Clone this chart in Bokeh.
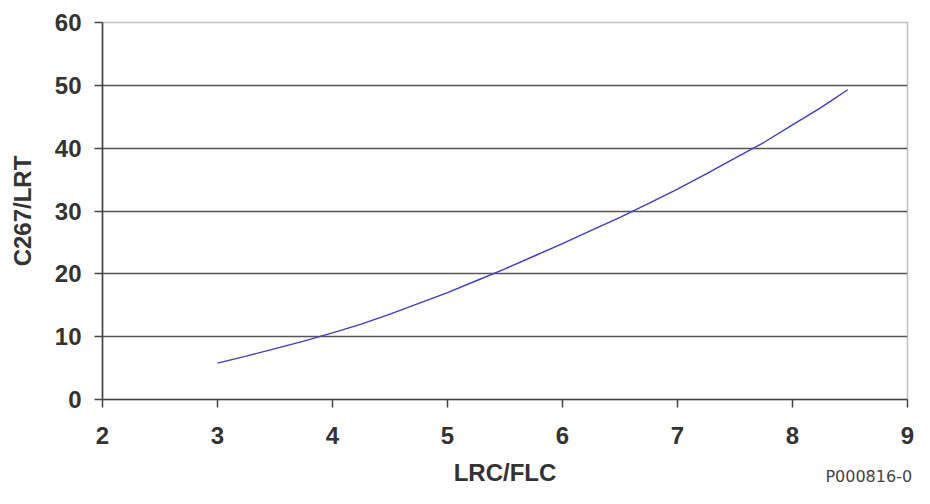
from bokeh.plotting import figure
from bokeh.embed import file_html
from bokeh.resources import INLINE
from bokeh.models import FixedTicker, Range1d, Label

# data
lrc_flc = [3.0, 3.25, 3.5, 3.75, 4.0, 4.25, 4.5, 4.75, 5.0, 5.25, 5.5, 5.75,
           6.0, 6.25, 6.5, 6.75, 7.0, 7.25, 7.5, 7.75, 8.0, 8.25, 8.48]
c267_lrt = [5.8, 6.9, 8.1, 9.3, 10.6, 12.0, 13.6, 15.3, 17.0, 18.9, 20.8, 22.8,
            24.8, 26.9, 29.0, 31.2, 33.5, 35.9, 38.4, 40.9, 43.7, 46.5, 49.3]
x_ticks = [2, 3, 4, 5, 6, 7, 8, 9]
y_ticks = [0, 10, 20, 30, 40, 50, 60]
y_grid = [10, 20, 30, 40, 50]
x_title = "LRC/FLC"
y_title = "C267/LRT"
ref_code = "P000816-0"

p = figure(width=914, height=488, output_backend="svg", toolbar_location=None,
           x_range=Range1d(2, 9), y_range=Range1d(0, 60),
           min_border_left=102, min_border_right=7, min_border_top=22, min_border_bottom=87)

p.line(lrc_flc, c267_lrt, line_color="#3c3cd0", line_width=1.4)

p.outline_line_color = "#c0c0c0"
p.outline_line_width = 1.5
p.background_fill_color = "white"
p.border_fill_color = "white"

p.xgrid.visible = False
p.ygrid.ticker = FixedTicker(ticks=y_grid)
p.ygrid.grid_line_color = "#555555"
p.ygrid.grid_line_width = 1.6

p.xaxis.ticker = FixedTicker(ticks=x_ticks)
p.yaxis.ticker = FixedTicker(ticks=y_ticks)

for ax in (p.xaxis, p.yaxis):
    ax.axis_line_color = "#444444"
    ax.axis_line_width = 1.6
    ax.major_tick_line_color = "#444444"
    ax.major_tick_line_width = 1.5
    ax.major_tick_in = 0
    ax.major_tick_out = 8
    ax.minor_tick_line_color = None
    ax.major_label_text_font = "Liberation Sans"
    ax.major_label_text_font_size = "24px"
    ax.major_label_text_font_style = "bold"
    ax.major_label_text_color = "#333333"
    ax.axis_label_text_font = "Liberation Sans"
    ax.axis_label_text_font_size = "24px"
    ax.axis_label_text_font_style = "bold"
    ax.axis_label_text_color = "#333333"

p.xaxis.axis_label = x_title
p.yaxis.axis_label = y_title
p.xaxis.major_label_standoff = 19
p.yaxis.major_label_standoff = 13
p.xaxis.axis_label_standoff = 12
p.yaxis.axis_label_standoff = 16

# code label lives in the top border panel but is drawn at the bottom-right corner
p.add_layout(Label(x=9.04, y=-463, x_units="data", y_units="screen", text=ref_code,
                   text_align="right", text_baseline="bottom",
                   text_font="DejaVu Sans", text_font_size="16px",
                   text_color="#444444"), "above")

open("out.html", "w").write(file_html(p, INLINE))
